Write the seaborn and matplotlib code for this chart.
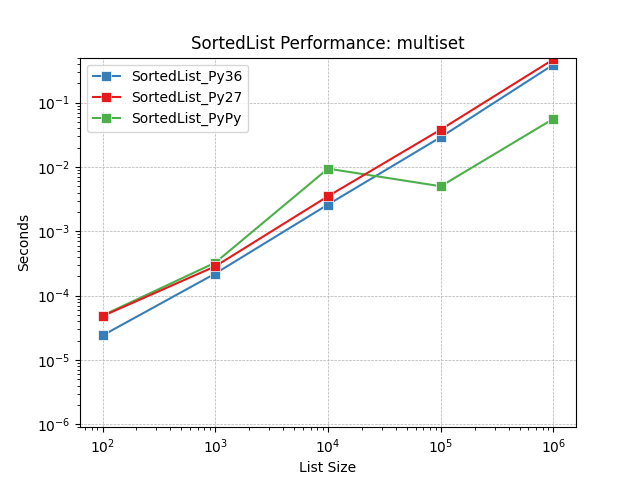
import matplotlib
matplotlib.use("Agg")
import matplotlib.pyplot as plt
import seaborn as sns
import pandas as pd

sizes = [100, 1000, 10000, 100000, 1000000]
py36 = [2.4e-5, 2.2e-4, 2.6e-3, 2.9e-2, 0.39]
py27 = [4.8e-5, 2.85e-4, 3.5e-3, 3.8e-2, 0.47]
pypy = [4.9e-5, 3.25e-4, 9.4e-3, 5.0e-3, 0.056]
names = ["SortedList_Py36", "SortedList_Py27", "SortedList_PyPy"]
colors = ["#377eb8", "#e41a1c", "#4daf4a"]

rows = []
for name, vals in zip(names, [py36, py27, pypy]):
    for s, v in zip(sizes, vals):
        rows.append({"List Size": s, "Seconds": v, "Series": name})
df = pd.DataFrame(rows)

fig, ax = plt.subplots(figsize=(6.4, 4.8), dpi=100)
sns.lineplot(data=df, x="List Size", y="Seconds", hue="Series",
             hue_order=names, palette=colors, marker="s", markersize=7,
             markeredgecolor="white", markeredgewidth=0.5, linewidth=1.5, ax=ax)
for line, z in zip(ax.lines[:3], [2.1, 2.3, 2.2]):
    line.set_zorder(z)
ax.set_xscale("log")
ax.set_yscale("log")
ax.set_ylim(9e-7, 0.5)
ax.grid(True, which="major", linestyle="--", linewidth=0.5, color="#b0b0b0")
ax.set_title("SortedList Performance: multiset")
ax.set_xlabel("List Size")
ax.set_ylabel("Seconds")
ax.legend(loc="upper left")
fig.savefig("out.png", dpi=100)
